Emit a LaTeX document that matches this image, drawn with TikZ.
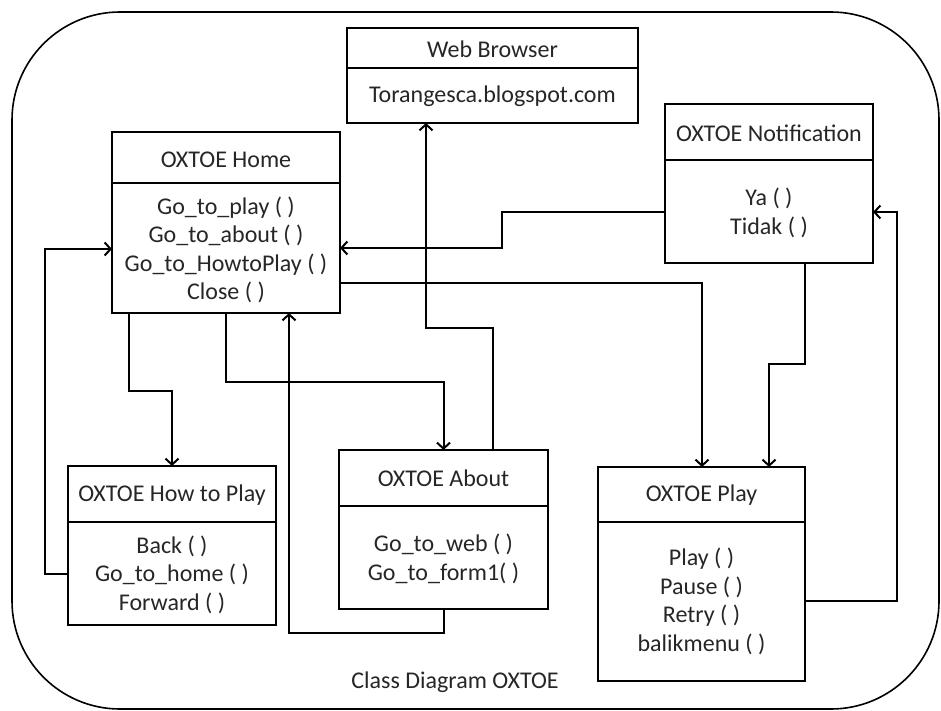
\documentclass[tikz,border=0pt]{standalone}
\usepackage{fontspec}
\setmainfont{Carlito}
\usetikzlibrary{arrows.meta}

\tikzset{
  classbox/.style={draw, line width=2pt, outer sep=0pt, inner sep=0pt},
  divider/.style={line width=2pt},
  link/.style={line width=2pt, -{Straight Barb[length=6pt,width=13pt,line width=2pt]}},
  label/.style={font=\fontsize{24}{28.5}\selectfont, text=black!85, inner sep=0pt, align=center},
  frame/.style={line width=1.6pt, rounded corners=108pt}
}

\begin{document}
\begin{tikzpicture}[x=1pt,y=-1pt]
  \useasboundingbox (0,0) rectangle (941,711);

  % outer frame
  \draw[frame] (12,12) rectangle (939,709);

  % class boxes
  \node[classbox, minimum width=228pt, minimum height=181pt] (home)  at (226,222.5) {};
  \node[classbox, minimum width=291pt, minimum height=95pt]  (web)   at (492.5,75.5) {};
  \node[classbox, minimum width=208pt, minimum height=159pt] (notif) at (769,183.5) {};
  \node[classbox, minimum width=208pt, minimum height=159pt] (howto) at (172,545.5) {};
  \node[classbox, minimum width=209pt, minimum height=159pt] (about) at (443.5,529.5) {};
  \node[classbox, minimum width=207pt, minimum height=214pt] (play)  at (701.5,574) {};

  % compartment dividers
  \draw[divider] ([yshift=-51pt]home.north west)  -- ([yshift=-51pt]home.north east);
  \draw[divider] ([yshift=-40pt]web.north west)   -- ([yshift=-40pt]web.north east);
  \draw[divider] ([yshift=-56pt]notif.north west) -- ([yshift=-56pt]notif.north east);
  \draw[divider] ([yshift=-56pt]howto.north west) -- ([yshift=-56pt]howto.north east);
  \draw[divider] ([yshift=-56pt]about.north west) -- ([yshift=-56pt]about.north east);
  \draw[divider] ([yshift=-55pt]play.north west)  -- ([yshift=-55pt]play.north east);

  % class names
  \node[label] (homeT)  at (226,160)   {OXTOE Home};
  \node[label] (webT)   at (492.5,49)  {Web Browser};
  \node[label] (notifT) at (769,133)   {OXTOE Notification};
  \node[label] (howtoT) at (172,495)   {OXTOE How to Play};
  \node[label] (aboutT) at (443.5,478) {OXTOE About};
  \node[label] (playT)  at (701.5,495) {OXTOE Play};

  % operations
  \node[label] (homeM)  at (226,250)   {Go\_to\_play ( )\\Go\_to\_about ( )\\Go\_to\_HowtoPlay ( )\\Close ( )};
  \node[label] (webM)   at (492.5,96)  {Torangesca.blogspot.com};
  \node[label] (notifM) at (769,213)   {Ya ( )\\Tidak ( )};
  \node[label] (howtoM) at (172,574.5) {Back ( )\\Go\_to\_home ( )\\Forward ( )};
  \node[label] (aboutM) at (443.5,559) {Go\_to\_web ( )\\Go\_to\_form1( )};
  \node[label] (playM)  at (701.5,601.5) {Play ( )\\Pause ( )\\Retry ( )\\balikmenu ( )};

  % caption
  \node[label] (caption) at (455,682) {Class Diagram OXTOE};

  % bend points of the connectors
  \coordinate (k1)  at (129,391);
  \coordinate (k3)  at (289,633);
  \coordinate (k4a) at (45,574);
  \coordinate (k4b) at (45,249);
  \coordinate (k5a) at (493,328);
  \coordinate (k5b) at (426,328);
  \coordinate (k6a) at (502,212);
  \coordinate (k6b) at (502,248);
  \coordinate (k7)  at (702,283);
  \coordinate (k8a) at (805,364);
  \coordinate (k8b) at (769,364);
  \coordinate (k9a) at (897,601);
  \coordinate (k9b) at (897,212);

  % Home -> How to Play
  \draw[link] (home.south -| k1) -- (k1) -| (howto.north);
  % Home -> About
  \draw[link] (home.south) -- ++(0,69) -| (about.north);
  % About -> Home
  \draw[link] (about.south) |- (k3) -- (home.south -| k3);
  % How to Play -> Home
  \draw[link] (howto.west |- k4a) -- (k4a) -- (k4b) -- (home.west |- k4b);
  % About -> Web Browser
  \draw[link] (about.north -| k5a) -- (k5a) -- (k5b) -- (web.south -| k5b);
  % Notification -> Home
  \draw[link] (notif.west |- k6a) -- (k6a) -- (k6b) -- (home.east |- k6b);
  % Home -> Play
  \draw[link] (home.east |- k7) -- (k7) -- (play.north -| k7);
  % Notification -> Play
  \draw[link] (notif.south -| k8a) -- (k8a) -- (k8b) -- (play.north -| k8b);
  % Play -> Notification
  \draw[link] (play.east |- k9a) -- (k9a) -- (k9b) -- (notif.east |- k9b);
\end{tikzpicture}
\end{document}
